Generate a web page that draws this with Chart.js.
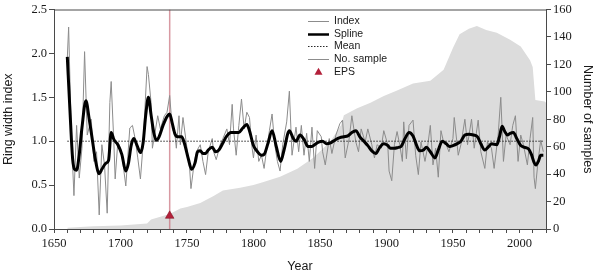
<!DOCTYPE html>
<html>
<head>
<meta charset="utf-8">
<script src="https://cdn.jsdelivr.net/npm/chart.js@4.4.1/dist/chart.umd.min.js"></script>
<style>
  html, body { margin: 0; padding: 0; background: #fff; }
  canvas { display: block; }
</style>
</head>
<body>
<canvas id="ringChart" width="601" height="277"></canvas>
<script>
// ---------- DATA ----------
const indexYears = [1660,1661,1663,1665,1667,1669,1671,1673,1675,1678,1680,1682,1684,1686,1688,1690,1692,1693,1695,1696,1698,1700,1702,1704,1707,1709,1711,1713,1715,1717,1720,1721,1723,1724,1726,1728,1730,1733,1735,1737,1739,1741,1742,1744,1745,1747,1750,1752,1753,1755,1757,1760,1762,1764,1766,1769,1770,1772,1775,1777,1780,1782,1784,1785,1787,1789,1791,1793,1795,1797,1799,1800,1802,1804,1806,1808,1810,1812,1814,1816,1818,1820,1822,1825,1827,1829,1832,1834,1836,1838,1840,1842,1844,1846,1848,1851,1852,1854,1857,1859,1862,1865,1867,1869,1872,1874,1877,1879,1881,1884,1886,1889,1891,1893,1896,1898,1901,1902,1904,1906,1908,1910,1912,1913,1915,1917,1920,1922,1924,1926,1929,1931,1933,1935,1937,1939,1941,1943,1945,1947,1950,1951,1954,1956,1959,1961,1964,1966,1969,1971,1974,1976,1979,1981,1984,1986,1988,1990,1993,1995,1997,1999,2001,2003,2006,2008,2010,2011,2012,2014,2016,2018];
const indexValues = [1.95,2.30,1.07,0.38,1.18,0.58,0.92,2.02,1.07,1.25,0.77,0.88,0.16,0.96,0.73,0.18,1.44,1.68,0.99,0.57,0.99,0.92,0.73,0.49,1.15,1.18,1.03,0.81,0.57,0.96,1.85,1.76,1.44,0.92,1.10,1.29,1.14,1.29,1.33,1.52,1.14,1.07,0.92,1.29,0.96,1.27,0.92,0.69,0.46,0.70,0.88,0.96,0.77,0.62,0.88,1.03,0.88,0.79,0.96,1.03,1.14,0.96,1.42,1.14,0.84,1.18,1.48,1.14,1.33,1.27,0.92,0.81,1.07,0.77,0.84,0.69,0.92,1.12,1.31,0.96,0.77,0.66,0.96,1.22,1.57,0.84,1.16,0.88,1.18,0.84,1.09,0.77,1.16,0.69,1.12,1.05,0.88,0.73,1.03,0.86,1.07,1.20,1.24,0.81,1.03,1.29,0.99,0.88,1.14,0.99,1.14,0.96,0.81,0.96,0.92,1.12,0.96,0.66,0.55,0.96,1.11,0.96,0.77,1.22,0.80,1.18,1.24,0.84,0.62,0.99,0.77,0.94,1.18,0.73,0.92,0.59,1.12,0.99,0.96,0.88,1.03,1.27,0.84,0.96,1.25,0.96,1.25,0.92,1.24,0.88,0.69,0.99,0.92,0.69,1.07,1.50,0.77,1.07,0.96,1.18,1.29,0.77,1.07,0.96,0.73,1.03,1.27,0.59,0.46,0.77,1.01,0.88];

const splineYears = [1660,1662,1664,1665.5,1667,1669,1671,1674,1676.5,1679,1681,1684,1686,1689,1691,1693,1695,1698,1701,1704,1706,1708,1710,1712.5,1715,1717,1719,1721,1723,1725,1727,1729,1732,1735,1737,1739,1741,1743,1746,1748,1751,1753.5,1756,1758,1760,1762,1764,1766,1769,1771.5,1774,1777,1780,1783,1786,1789,1792,1795,1797,1800,1803,1806,1808,1811,1814,1817,1820.5,1823,1827,1830,1832,1835,1838,1841,1844,1846,1849,1852,1855,1858,1862,1865,1868,1871,1874,1877,1880,1883,1886,1889,1892,1895,1898,1901,1903,1906,1909,1911,1914,1917,1920,1923,1925,1928,1930,1933,1936.5,1939,1942,1945,1947.5,1950,1953,1956,1959,1962,1965.5,1968.5,1971,1974,1977,1979,1983,1985,1987,1989,1991,1993,1995.5,1998,2001,2004,2007,2009,2011,2012.5,2014.5,2016,2018];
const splineValues = [1.96,1.35,0.80,0.68,0.67,0.85,1.15,1.46,1.25,1.00,0.80,0.63,0.68,0.75,0.78,1.10,1.02,0.96,0.85,0.66,0.75,0.95,1.03,0.95,0.87,0.98,1.30,1.50,1.30,1.10,1.01,1.05,1.18,1.28,1.31,1.20,1.08,1.05,1.05,0.98,0.80,0.68,0.75,0.88,0.89,0.86,0.86,0.90,0.93,0.88,0.90,0.98,1.06,1.10,1.10,1.10,1.15,1.19,1.12,0.95,0.88,0.84,0.85,0.98,1.12,0.95,0.77,0.90,1.12,1.03,1.00,1.07,1.02,0.94,0.94,0.96,0.99,1.00,0.97,0.98,1.02,1.04,1.05,1.06,1.10,1.12,1.05,1.00,0.95,0.89,0.86,0.93,0.97,0.95,0.92,0.92,0.93,0.94,1.03,1.10,1.06,0.94,0.89,0.90,0.93,0.88,0.81,0.90,1.00,0.97,0.94,0.95,0.97,1.00,1.07,1.08,1.07,1.05,0.97,0.90,0.94,0.97,0.96,1.05,1.17,1.11,1.07,1.09,1.10,1.03,0.95,0.93,0.91,0.85,0.76,0.73,0.78,0.84,0.84];

const sampleYears = [1660,1680,1700,1720,1723,1730,1737,1745,1750,1760,1770,1777,1790,1800,1807,1820,1833,1845,1858,1866,1868,1878,1888,1898,1908,1920,1933,1943,1950,1955,1962,1968,1975,1983,1993,2001,2008,2010,2012,2019,2020];
const sampleCounts = [1,2,2.5,4,7,9,11,15,16,19,24,28,30,32,34,38,44,52,64,76,83,88,92,97,101,106,108,116,132,142,146,148,145,143,138,133,123,118,94,93,92];

const meanYears = [1660, 2018];
const meanValue = 1.0;
const epsYear = 1737;
const epsValue = 0.15;

const legendLabels = ["Index", "Spline", "Mean", "No. sample", "EPS"];

// ---------- STYLE ----------
const COLORS = {
  area: "#dcdcdc",
  index: "#8c8c8c",
  spline: "#000000",
  mean: "#2a2a2a",
  epsLine: "rgba(200,110,122,0.7)",
  epsMark: "#b3203a",
  axis: "#4a4a4a",
  text: "#1a1a1a"
};
const SERIF = '"Liberation Serif", "Times New Roman", serif';
const SANS = '"Liberation Sans", Arial, sans-serif';

Chart.defaults.font.family = SERIF;

function pairs(xs, ys) {
  return xs.map((x, i) => ({ x: x, y: ys[i] }));
}

// ---------- PLUGINS ----------
const frameTop = {
  id: "frameTop",
  afterDatasetsDraw(chart) {
    const { ctx, chartArea } = chart;
    ctx.save();
    ctx.strokeStyle = COLORS.axis;
    ctx.lineWidth = 1;
    ctx.beginPath();
    ctx.moveTo(chartArea.left, chartArea.top + 0.5);
    ctx.lineTo(chartArea.right, chartArea.top + 0.5);
    ctx.stroke();
    ctx.restore();
  }
};

const insideLegend = {
  id: "insideLegend",
  afterDatasetsDraw(chart) {
    const ctx = chart.ctx;
    const x0 = 308, x1 = 329, tx = 334, y0 = 21, dy = 12.7;
    ctx.save();
    ctx.font = "10.5px " + SANS;
    ctx.fillStyle = COLORS.text;
    ctx.textBaseline = "middle";
    legendLabels.forEach((label, i) => {
      const y = y0 + i * dy;
      ctx.setLineDash([]);
      if (i === 0 || i === 3) {
        ctx.strokeStyle = COLORS.index; ctx.lineWidth = 1;
      } else if (i === 1) {
        ctx.strokeStyle = COLORS.spline; ctx.lineWidth = 2.5;
      } else if (i === 2) {
        ctx.strokeStyle = COLORS.mean; ctx.lineWidth = 1; ctx.setLineDash([1.5, 1.5]);
      }
      if (i < 4) {
        ctx.beginPath();
        ctx.moveTo(x0, Math.round(y) + 0.5);
        ctx.lineTo(x1, Math.round(y) + 0.5);
        ctx.stroke();
      } else {
        ctx.fillStyle = COLORS.epsMark;
        ctx.beginPath();
        ctx.moveTo(318.5, y - 4);
        ctx.lineTo(322.5, y + 3);
        ctx.lineTo(314.5, y + 3);
        ctx.closePath();
        ctx.fill();
        ctx.fillStyle = COLORS.text;
      }
      ctx.setLineDash([]);
      ctx.fillText(label, tx, y);
    });
    ctx.restore();
  }
};

// ---------- CHART ----------
const titleFont = { family: SANS, size: 12.5 };
const tickFont = { family: SERIF, size: 12.5 };

new Chart(document.getElementById("ringChart"), {
  type: "line",
  data: {
    datasets: [
      {
        label: "No. sample",
        data: pairs(sampleYears, sampleCounts),
        yAxisID: "y2",
        fill: "origin",
        backgroundColor: COLORS.area,
        borderColor: COLORS.area,
        borderWidth: 0,
        pointRadius: 0,
        order: 6
      },
      {
        label: "EPS line",
        data: [{ x: epsYear, y: 0 }, { x: epsYear, y: 2.5 }],
        borderColor: COLORS.epsLine,
        borderWidth: 1.5,
        pointRadius: 0,
        order: 5
      },
      {
        label: "Index",
        data: pairs(indexYears, indexValues),
        borderColor: COLORS.index,
        borderWidth: 1,
        pointRadius: 0,
        order: 4
      },
      {
        label: "Mean",
        data: meanYears.map(x => ({ x: x, y: meanValue })),
        borderColor: COLORS.mean,
        borderWidth: 1,
        borderDash: [1.5, 1.5],
        pointRadius: 0,
        order: 3
      },
      {
        label: "Spline",
        data: pairs(splineYears, splineValues),
        borderColor: COLORS.spline,
        borderWidth: 3,
        pointRadius: 0,
        cubicInterpolationMode: "monotone",
        order: 2
      },
      {
        label: "EPS",
        data: [{ x: epsYear, y: epsValue }],
        showLine: false,
        pointStyle: "triangle",
        pointRadius: 5,
        backgroundColor: COLORS.epsMark,
        borderColor: "#7a1020",
        borderWidth: 0.5,
        order: 1
      }
    ]
  },
  options: {
    responsive: false,
    animation: false,
    events: [],
    layout: { padding: { top: 5, left: 0, right: 0, bottom: 0 } },
    plugins: {
      legend: { display: false },
      tooltip: { enabled: false }
    },
    scales: {
      x: {
        type: "linear",
        min: 1650,
        max: 2020,
        afterFit: s => { s.height = 48; },
        afterBuildTicks: s => { s.ticks = []; for (let v = 1650; v <= 2020; v += 10) s.ticks.push({ value: v }); },
        ticks: {
          autoSkip: false,
          maxRotation: 0,
          padding: 3,
          color: COLORS.text,
          font: tickFont,
          callback: v => (v % 50 === 0 && v < 2020 ? String(v) : "")
        },
        grid: { drawOnChartArea: false, tickLength: 4, color: COLORS.axis },
        border: { color: COLORS.axis },
        title: { display: true, text: "Year", color: COLORS.text, font: titleFont, padding: { top: 0, bottom: 3 } }
      },
      y: {
        min: 0,
        max: 2.5,
        afterFit: s => { s.width = 54; },
        ticks: { stepSize: 0.5, padding: 2, color: COLORS.text, font: tickFont, callback: v => v.toFixed(1) },
        grid: { drawOnChartArea: false, tickLength: 5, color: COLORS.axis },
        border: { color: COLORS.axis },
        title: { display: true, text: "Ring width index", color: COLORS.text, font: titleFont, padding: { top: 1, bottom: 0 } }
      },
      y2: {
        position: "right",
        min: 0,
        max: 160,
        afterFit: s => { s.width = 55; },
        ticks: { stepSize: 20, padding: 2, color: COLORS.text, font: tickFont },
        grid: { drawOnChartArea: false, tickLength: 5, color: COLORS.axis },
        border: { color: COLORS.axis },
        title: { display: true, text: "Number of samples", color: COLORS.text, font: titleFont, padding: { top: 6, bottom: 0 } }
      }
    }
  },
  plugins: [frameTop, insideLegend]
});
</script>
</body>
</html>
